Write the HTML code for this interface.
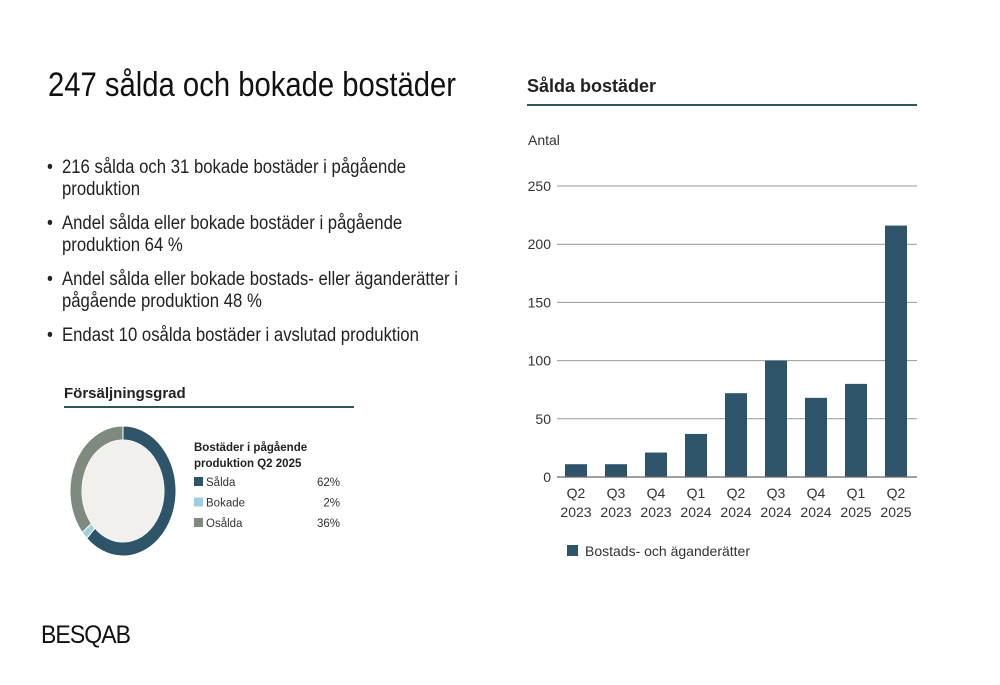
<!DOCTYPE html>
<html><head><meta charset="utf-8"><style>
body{margin:0;width:1000px;height:685px;background:#fff;font-family:"Liberation Sans",sans-serif;position:relative;overflow:hidden}
.a{position:absolute;white-space:nowrap}
ul{margin:0;padding:0;list-style:none}
li{position:relative;padding-left:17px}
li span{position:absolute;left:0}
</style></head><body>
<div class="a" style="left:48px;top:66px;font-size:34px;color:#111;transform:scaleX(0.86);transform-origin:left">247 sålda och bokade bostäder</div>
<ul class="a" style="left:47px;top:157px;font-size:19px;color:#222;line-height:22px;transform:scaleX(0.88);transform-origin:left">
<li style="margin-bottom:12px"><span>•</span>216 sålda och 31 bokade bostäder i pågående<br>produktion</li>
<li style="margin-bottom:12px"><span>•</span>Andel sålda eller bokade bostäder i pågående<br>produktion 64 %</li>
<li style="margin-bottom:12px"><span>•</span>Andel sålda eller bokade bostads- eller äganderätter i<br>pågående produktion 48 %</li>
<li><span>•</span>Endast 10 osålda bostäder i avslutad produktion</li>
</ul>
<div class="a" style="left:41px;top:621px;font-size:25px;color:#111;letter-spacing:-1px;transform:scaleX(0.92);transform-origin:left">BESQAB</div>

<svg class="a" style="left:0;top:0" width="1000" height="685">
<text x="64" y="398" font-size="15" font-weight="bold" fill="#222" font-family="Liberation Sans">Försäljningsgrad</text>
<line x1="64" y1="407" x2="354" y2="407" stroke="#2f5468" stroke-width="2"/>
<g id="donut"></g>
<text x="194" y="451" font-size="11.5" font-weight="bold" fill="#222">Bostäder i pågående</text>
<text x="194" y="467" font-size="11.5" font-weight="bold" fill="#222">produktion Q2 2025</text>
<g id="dleg"></g>

<text x="527" y="92" font-size="18" font-weight="bold" fill="#222">Sålda bostäder</text>
<line x1="527" y1="105" x2="917" y2="105" stroke="#2f5468" stroke-width="2"/>
<text x="528" y="145" font-size="14" fill="#333">Antal</text>
<g id="bars"></g>
<rect x="567" y="545" width="11" height="11" fill="#2d5468"/>
<text x="585" y="556" font-size="14" fill="#333">Bostads- och äganderätter</text>
</svg>
<script>
const categories=["Q2|2023","Q3|2023","Q4|2023","Q1|2024","Q2|2024","Q3|2024","Q4|2024","Q1|2025","Q2|2025"];
const values=[11,11,21,37,72,100,68,80,216];
const ticks=[0,50,100,150,200,250];
const slices=["Sålda","Bokade","Osålda"];
const shares=[62,2,36];
const NS="http://www.w3.org/2000/svg";
function mk(t,a,p){const e=document.createElementNS(NS,t);for(const k in a)e.setAttribute(k,a[k]);p.appendChild(e);return e;}
const g=document.getElementById('bars');
const y=v=>477-v*(291/250), x=i=>576+i*40;
ticks.forEach(t=>{
  if(t>0){const l=mk('line',{x1:557,x2:917,y1:y(t),y2:y(t),stroke:'#999','stroke-width':1},g);
  
  }
  const tx=mk('text',{x:551,y:y(t)+5,'text-anchor':'end','font-size':14,fill:'#333'},g);tx.textContent=t;
  
  
});
values.forEach((v,i)=>{
  const r=mk('rect',{x:x(i)-11,y:y(v),width:22,height:477-y(v),fill:'#2d5468'},g);
  
  
  const [q,yr]=categories[i].split('|');
  const t1=mk('text',{x:x(i),y:498,'text-anchor':'middle','font-size':14,fill:'#333'},g);t1.textContent=q;
  
  
  const t2=mk('text',{x:x(i),y:517,'text-anchor':'middle','font-size':14,fill:'#333'},g);t2.textContent=yr;
});
mk('line',{x1:557,x2:917,y1:477,y2:477,stroke:'#666','stroke-width':1.2},g);
const d=document.getElementById('donut');
const cx=123,cy=491,rx=53,ry=65,ix=41,iy=51,cols=['#2d5468','#9fcfdc','#7e8a7d'];
let a=0;
shares.forEach((s,i)=>{
  const a0=a*2*Math.PI/100,a1=(a+s)*2*Math.PI/100;a+=s;
  const P=(r1,r2,t)=>[cx+r1*Math.sin(t),cy-r2*Math.cos(t)];
  const L=(a1-a0)>Math.PI?1:0;
  const [x0,y0]=P(rx,ry,a0),[x1,y1]=P(rx,ry,a1),[x2,y2]=P(ix,iy,a1),[x3,y3]=P(ix,iy,a0);
  const p=mk('path',{d:`M${x0},${y0}A${rx},${ry} 0 ${L} 1 ${x1},${y1}L${x2},${y2}A${ix},${iy} 0 ${L} 0 ${x3},${y3}Z`,fill:cols[i],stroke:'#fff','stroke-width':1},d);
  
  
});
mk('ellipse',{cx:cx,cy:cy,rx:ix,ry:iy,fill:'#f2f0ec'},d);
const dl=document.getElementById('dleg');
slices.forEach((s,i)=>{
  const yy=486+i*20.5;
  const r=mk('rect',{x:194,y:yy-9,width:9,height:9,fill:cols[i]},dl);
  
  
  const t=mk('text',{x:206,y:yy,'font-size':11.5,fill:'#333'},dl);t.textContent=s;
  
  
  const v=mk('text',{x:340,y:yy,'font-size':11.5,fill:'#333','text-anchor':'end'},dl);v.textContent=shares[i]+'%';
});
</script>
</body></html>
